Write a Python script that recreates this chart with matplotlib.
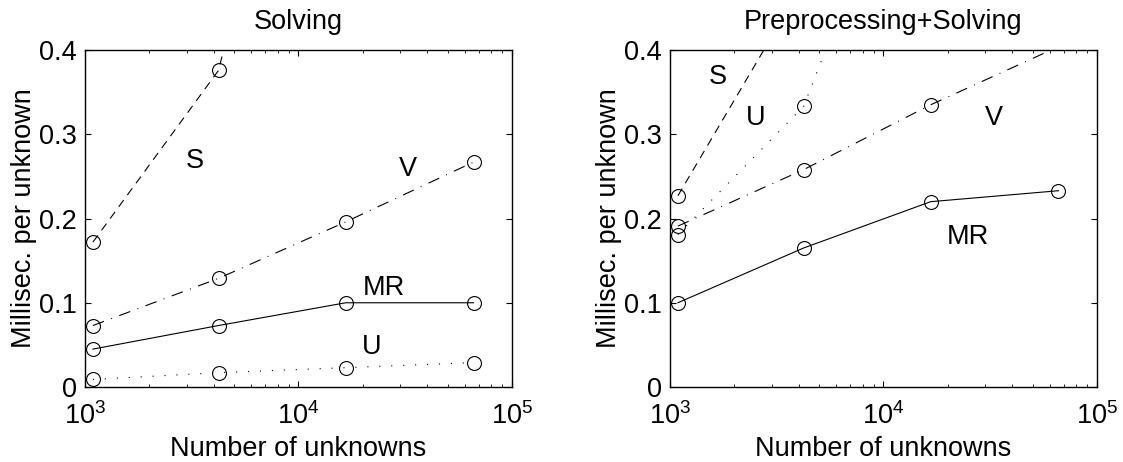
import numpy as np
import matplotlib
matplotlib.use("Agg")
import matplotlib.pyplot as plt
from matplotlib.ticker import FixedLocator, FixedFormatter

plt.rcParams['font.family'] = ['Liberation Sans', 'DejaVu Sans']
plt.rcParams['mathtext.fontset'] = 'custom'
plt.rcParams['mathtext.rm'] = 'Liberation Sans'
plt.rcParams['mathtext.it'] = 'Liberation Sans:italic'
plt.rcParams['mathtext.bf'] = 'Liberation Sans:bold'
plt.rcParams['lines.scale_dashes'] = False

# problem sizes (number of unknowns)
n_unknowns = [1089, 4225, 16641, 66049]

# solving time, ms per unknown
solve_S = [0.172, 0.376, 1.0]
solve_V = [0.073, 0.129, 0.196, 0.267]
solve_MR = [0.045, 0.073, 0.100, 0.100]
solve_U = [0.009, 0.017, 0.023, 0.029]

# preprocessing + solving time, ms per unknown
total_S = [0.227, 0.48]
total_U = [0.181, 0.333, 0.72]
total_V = [0.191, 0.258, 0.335, 0.404]
total_MR = [0.100, 0.165, 0.220, 0.233]

y_ticks = [0, 0.1, 0.2, 0.3, 0.4]
y_tick_labels = ["0", "0.1", "0.2", "0.3", "0.4"]

FS = 19.5
LW = 0.8
styles = {
    'S': dict(linestyle=(0, (6.0, 4.5))),
    'V': dict(linestyle=(0, (8.5, 5.5, 0.7, 5.5))),
    'MR': dict(linestyle='-'),
    'U': dict(linestyle=(0, (0.8, 7.8))),
}

fig = plt.figure(figsize=(11.23, 4.62), dpi=100)
ax1 = fig.add_axes([0.0757, 0.1623, 0.3802, 0.7294])
ax2 = fig.add_axes([0.5966, 0.1623, 0.3802, 0.7294])

YMAX = 0.4


def draw(ax, key, vals):
    x = np.array(n_unknowns[:len(vals)], dtype=float)
    y = np.array(vals, dtype=float)
    visible = list(y <= YMAX + 1e-9)
    ax.plot(x, y, color='black', linewidth=LW, marker='o', markersize=10,
            markerfacecolor='none', markeredgecolor='black',
            markeredgewidth=0.8, markevery=visible, **styles[key])


def setup(ax, title):
    ax.set_xscale('log')
    ax.set_xlim(1e3, 1e5)
    ax.set_ylim(0, YMAX)
    ax.set_xticks([1e3, 1e4, 1e5])
    ax.yaxis.set_major_locator(FixedLocator(y_ticks))
    ax.yaxis.set_major_formatter(FixedFormatter(y_tick_labels))
    ax.tick_params(which='both', direction='in', top=True, right=True,
                   labelsize=FS)
    ax.tick_params(which='major', length=4, width=0.8)
    ax.tick_params(which='minor', length=2, width=0.6)
    ax.tick_params(axis='y', pad=6)
    ax.tick_params(axis='x', pad=11)
    for sp in ax.spines.values():
        sp.set_linewidth(1.0)
    ax.set_title(title, fontsize=FS, pad=15)
    ax.set_xlabel("Number of unknowns", fontsize=FS, labelpad=4)
    ax.set_ylabel("Millisec. per unknown", fontsize=FS, labelpad=1)


setup(ax1, "Solving")
draw(ax1, 'S', solve_S)
draw(ax1, 'V', solve_V)
draw(ax1, 'MR', solve_MR)
draw(ax1, 'U', solve_U)
for txt, (tx, ty) in {'S': (3275, 0.268), 'V': (32450, 0.259),
                      'MR': (25240, 0.117), 'U': (22080, 0.0476)}.items():
    ax1.text(tx, ty, txt, fontsize=FS, ha='center', va='center')

setup(ax2, "Preprocessing+Solving")
draw(ax2, 'S', total_S)
draw(ax2, 'U', total_U)
draw(ax2, 'V', total_V)
draw(ax2, 'MR', total_MR)
for txt, (tx, ty) in {'S': (1667, 0.368), 'U': (2530, 0.319),
                      'V': (32950, 0.319), 'MR': (24830, 0.1786)}.items():
    ax2.text(tx, ty, txt, fontsize=FS, ha='center', va='center')

fig.savefig("out.png", dpi=100)
